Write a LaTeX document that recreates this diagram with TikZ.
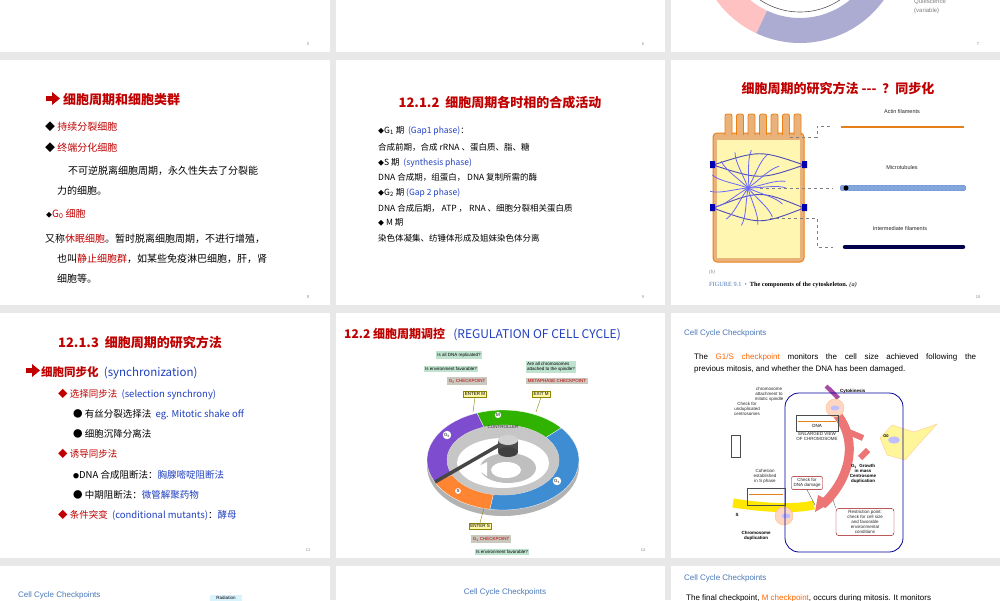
\documentclass[tikz,border=0pt]{standalone}
\usepackage{fontspec}
\setmainfont{Noto Sans CJK SC}
\newfontfamily\serifx{Liberation Serif}
\newfontfamily\sansx{Liberation Sans}
\usetikzlibrary{arrows.meta,calc}
\definecolor{rd}{HTML}{C00000}
\definecolor{bl}{HTML}{1F3FC0}
\definecolor{tb}{HTML}{4A78B8}
\definecolor{bg}{HTML}{E8E8E8}
\definecolor{cbox}{HTML}{BFE3CF}
\definecolor{gbox}{HTML}{C9C9C0}
\definecolor{ybox}{HTML}{FFF7A8}
\tikzset{
 panel/.style={fill=white,draw=none},
 tx/.style={anchor=base west,inner sep=0pt,font=\fontsize{10}{12}\selectfont},
 tt/.style={anchor=base,inner sep=0pt,font=\fontsize{13}{15}\selectfont\bfseries,text=rd},
 pg/.style={anchor=base,inner sep=0pt,font=\fontsize{4}{5}\selectfont,text=gray},
 sm/.style={anchor=base west,inner sep=0pt,font=\fontsize{8.5}{10}\selectfont},
 lab/.style={inner sep=1.5pt,font=\sansx\fontsize{4.5}{5}\selectfont},
 tiny/.style={inner sep=0pt,align=center,font=\sansx\fontsize{4.5}{5}\selectfont},
 cct/.style={anchor=base west,inner sep=0pt,font=\sansx\fontsize{8}{9}\selectfont,text=tb},
}
\begin{document}
\begin{tikzpicture}[x=1pt,y=-1pt]
\fill[bg] (0,0) rectangle (1000,600);
\useasboundingbox (0,0) rectangle (1000,600);
% panels
\foreach \xa/\xb in {0/330,336/665,671/1000}{
 \foreach \ya/\yb in {0/52,60/305,313/558,566/600}{
  \fill[panel] (\xa,\ya) rectangle (\xb,\yb);}}
% top row remnants (ring of slide 7)
\begin{scope}
\clip (671,0) rectangle (1000,52);
\fill[pink!80!red!60] ($(800,-60)+(145:103)$) arc[start angle=145,end angle=115,radius=103] -- ($(800,-60)+(115:78)$) arc[start angle=115,end angle=145,radius=78] -- cycle;
\fill[blue!30!gray!50] ($(800,-60)+(115:103)$) arc[start angle=115,end angle=35,radius=103] -- ($(800,-60)+(35:78)$) arc[start angle=35,end angle=115,radius=78] -- cycle;
\draw[gray!70!black,line width=0.6pt] (800,-60) circle (72);
\end{scope}
\node[anchor=base west,inner sep=0pt,text=gray,font=\sansx\fontsize{6}{7}\selectfont] (qv1) at (914,3) {Quiescence};
\node[anchor=base west,inner sep=0pt,text=gray,font=\sansx\fontsize{6}{7}\selectfont] (qv2) at (914,12) {(variable)};
\node[pg] (p5) at (308,45) {5};
\node[pg] (p6) at (643,45) {6};
\node[pg] (p7) at (978,45) {7};
% ===== slide 8
\fill[rd] (46,96) rectangle (53,101);
\fill[rd] (52,92) -- (60,98.5) -- (52,105) -- cycle;
\node[tx,font=\fontsize{13}{15}\selectfont\bfseries,text=rd] (s8t) at (63,104) {细胞周期和细胞类群};
\node[tx] (s8a) at (45,130) {◆ \textcolor{rd}{持续分裂细胞}};
\node[tx] (s8b) at (45,151) {◆ \textcolor{rd}{终端分化细胞}};
\node[tx] (s8c) at (68,174) {不可逆脱离细胞周期，永久性失去了分裂能};
\node[tx] (s8d) at (57,194) {力的细胞。};
\node[tx] (s8e) at (46,217) {\fontsize{6}{7}\selectfont◆\fontsize{10}{12}\selectfont\textcolor{rd}{G\textsubscript{0} 细胞}};
\node[tx] (s8f) at (45,242) {又称\textcolor{rd}{休眠细胞}。暂时脱离细胞周期，不进行增殖，};
\node[tx] (s8g) at (57,262) {也叫\textcolor{rd}{静止细胞群}，如某些免疫淋巴细胞，肝，肾};
\node[tx] (s8h) at (57,282) {细胞等。};
\node[pg] (p8) at (308,298) {8};
% ===== slide 9
\node[tt] (s9t) at (500,107) {12.1.2\ \ 细胞周期各时相的合成活动};
\begin{scope}[every node/.style={sm}]
\node (s9a) at (378,133) {\fontsize{6}{7}\selectfont◆\fontsize{8.5}{10}\selectfont G\textsubscript{1} 期\ \ \textcolor{bl}{(Gap1 phase)}：};
\node (s9b) at (378,150) {合成前期，合成 rRNA 、蛋白质、脂、糖};
\node (s9c) at (378,165) {\fontsize{6}{7}\selectfont◆\fontsize{8.5}{10}\selectfont S 期\ \ \textcolor{bl}{(synthesis phase)}};
\node (s9d) at (378,180) {DNA\ 合成期，组蛋白，\ DNA 复制所需的酶};
\node (s9e) at (378,195) {\fontsize{6}{7}\selectfont◆\fontsize{8.5}{10}\selectfont G\textsubscript{2} 期 \textcolor{bl}{(Gap 2 phase)}};
\node (s9f) at (378,211) {DNA 合成后期，\ ATP ，\ RNA 、细胞分裂相关蛋白质};
\node (s9g) at (378,225) {\fontsize{6}{7}\selectfont◆\fontsize{8.5}{10}\selectfont\ M 期};
\node (s9h) at (378,241) {染色体凝集、纺锤体形成及姐妹染色体分离};
\end{scope}
\node[pg] (p9) at (643,298) {9};
% ===== slide 10
\node[tt] (s10t) at (838,93) {细胞周期的研究方法 {-}{-}{-}\ \ ？同步化};
\fill[orange!45!brown!60, draw=orange!70!brown, line width=1pt, rounded corners=4pt] (713,133) rectangle (804,262);
\foreach \i in {0,...,6}{
 \fill[orange!45!brown!60, draw=orange!70!brown, line width=0.8pt, rounded corners=2pt] ({725+\i*11.5},135) -- ({725+\i*11.5},114) -- ({732+\i*11.5},114) -- ({732+\i*11.5},135);}
\fill[orange!25!yellow!30] (717,140) rectangle (800,258);
\begin{scope}[blue!60!black!70,line width=0.9pt]
\draw (713,165) .. controls (760,150) and (760,150) .. (804,165);
\draw (713,165) .. controls (760,180) and (760,180) .. (804,165);
\draw (713,208) .. controls (760,190) and (760,190) .. (804,208);
\draw (713,208) .. controls (760,225) and (760,225) .. (804,208);
\end{scope}
\begin{scope}[blue!60,line width=0.8pt]
\foreach \a in {0,25,...,350}{\draw (748,188) .. controls ++(\a:15) and ++(\a+20:-10) .. ++(\a:38);}
\end{scope}
\fill[blue!70!black] (710,161) rectangle (715,168) (802,161) rectangle (807,168) (710,204) rectangle (715,211) (802,204) rectangle (807,211);
\draw[dashed,gray,line width=0.4pt] (790,137) -- (817,137) -- (817,126) -- (833,126);
\draw[dashed,gray,line width=0.4pt] (760,188) -- (833,188);
\draw[dashed,gray,line width=0.4pt] (770,218) -- (817,218) -- (817,247) -- (833,247);
\node[tiny,text=gray!30!black,font=\sansx\fontsize{5.5}{6}\selectfont] (af) at (902,112) {Actin filaments};
\node[tiny,text=gray!30!black,font=\sansx\fontsize{5.5}{6}\selectfont] (mt) at (902,168) {Microtubules};
\node[tiny,text=gray!30!black,font=\sansx\fontsize{5.5}{6}\selectfont] (if) at (900,229) {Intermediate filaments};
\draw[line width=2.5pt,orange!60!brown] (841,127) -- (964,127);
\draw[line width=6pt,line cap=round,blue!55!black] (843,188) -- (963,188);
\draw[line width=6pt,line cap=round,dash pattern=on 2pt off 2pt,cyan!50!blue!50] (843,188) -- (963,188);
\fill[black] (846,188) circle (2.5pt);
\draw[line width=4.5pt,line cap=round,blue!30!black] (845,247) -- (963,247);
\node[tx,font=\serifx\itshape\fontsize{5}{6}\selectfont,text=gray] (fb) at (709,273) {(b)};
\node[tx,font=\serifx\fontsize{6.3}{7}\selectfont] (fc) at (709,286) {\textcolor{tb}{FIGURE 9.1}\ \ \textcolor{tb}{•}\ \ \textbf{The components of the cytoskeleton.} \textit{(a)}};
\node[pg] (p10) at (978,298) {10};
% ===== slide 11
\node[tt] (s11t) at (140,347) {12.1.3\ \ 细胞周期的研究方法};
\fill[rd] (26,368) rectangle (33,373);
\fill[rd] (32,364) -- (40,370.5) -- (32,377) -- cycle;
\node[tx,font=\fontsize{11.5}{13}\selectfont\bfseries,text=rd] (s11a) at (41,376) {细胞同步化\ \ \textcolor{bl}{\mdseries(synchronization)}};
\begin{scope}[every node/.style={tx,font=\fontsize{9.5}{11}\selectfont}]
\node (s11b) at (58,397) {\textcolor{rd}{◆ 选择同步法}\ \ \textcolor{bl}{(selection synchrony)}};
\node (s11c) at (73,417) {● 有丝分裂选择法\ \ \textcolor{bl}{eg. Mitotic shake off}};
\node (s11d) at (73,437) {● 细胞沉降分离法};
\node (s11e) at (58,457) {\textcolor{rd}{◆ 诱导同步法}};
\node (s11f) at (73,478) {\fontsize{6}{7}\selectfont●\fontsize{9.5}{11}\selectfont DNA 合成阻断法：\textcolor{bl}{胸腺嘧啶阻断法}};
\node (s11g) at (73,498) {● 中期阻断法：\textcolor{bl}{微管解聚药物}};
\node (s11h) at (58,518) {\textcolor{rd}{◆ 条件突变}\ \ \textcolor{bl}{(conditional mutants)}：\textcolor{bl}{酵母}};
\end{scope}
\node[pg] (p11) at (308,551) {11};
% ===== slide 12
\node[tx,font=\fontsize{12}{14}\selectfont\bfseries,text=rd] (s12t) at (344,338) {12.2\ 细胞周期调控\ \ \ \textcolor{bl}{\mdseries(REGULATION OF CELL CYCLE)}};
\def\cx{503}\def\cy{460}
\newcommand\ringseg[3]{\fill[#3,draw=white,line width=0.3pt] ($(\cx,\cy)+(#1:76 and 50)$) arc[start angle=#1,end angle=#2,x radius=76,y radius=50] -- ($(\cx,\cy)+(#2:56 and 35)$) arc[start angle=#2,end angle=#1,x radius=56,y radius=35] -- cycle;}
\fill[gray!60] ($(\cx,\cy)+(0,6)$) ellipse (76 and 50);
\ringseg{250}{320}{green!65!lime!70!black}
\ringseg{320}{460}{cyan!60!blue!80}
\ringseg{460}{515}{orange!80!red!80}
\ringseg{515}{610}{blue!45!violet!70}
\fill[gray!45] (\cx,\cy) ellipse (56 and 35);
\fill[white] (\cx,\cy+3) ellipse (46 and 25);
\fill[gray!50] (\cx+5,\cy+8) ellipse (28 and 15);
\fill[white] (\cx+3,\cy+10) ellipse (15 and 8);
\fill[white] (\cx-28,\cy+8) -- (\cx-16,\cy+2) -- (\cx-16,\cy+16) -- cycle;
\draw[line width=3.5pt,gray!55!black] (\cx-68,\cy+22) -- (\cx+5,\cy-20);
\fill[gray!60!black] (\cx-5,\cy-20) rectangle (\cx+15,\cy-8);
\fill[gray!50!black] (\cx+5,\cy-8) ellipse (10 and 5);
\fill[gray!35] (\cx+5,\cy-20) ellipse (10 and 5);
\node[tiny,text=gray!40!black] (ctl) at (\cx,\cy-33) {CONTROLLER};
\node[tiny,fill=white,circle,inner sep=0.5pt] (mM) at (\cx-5,\cy-45) {M};
\node[tiny,fill=white,circle,inner sep=0.5pt] (mG2) at (\cx-56,\cy-25) {G\textsubscript{2}};
\node[tiny,fill=white,circle,inner sep=0.5pt] (mS) at (\cx-45,\cy+31) {S};
\node[tiny,fill=white,circle,inner sep=0.5pt] (mG1) at (\cx+54,\cy+21) {G\textsubscript{1}};
\node[lab,fill=cbox] (q1) at (459,355) {Is all DNA replicated?};
\node[lab,fill=cbox] (q2) at (451,369) {Is environment favorable?};
\node[lab,fill=gbox,text=rd] (g2c) at (467,381) {G\textsubscript{2} CHECKPOINT};
\node[lab,fill=ybox,draw=olive] (em) at (475,394) {ENTER M};
\node[lab,fill=cbox,align=left] (q3) at (551,367) {Are all chromosomes\\attached to the spindle?};
\node[lab,fill=gbox,text=rd] (mc) at (557,381) {METAPHASE CHECKPOINT};
\node[lab,fill=ybox,draw=olive] (xm) at (541,394) {EXIT M};
\node[lab,fill=ybox,draw=olive] (es) at (480,526) {ENTER S};
\node[lab,fill=gbox,text=rd] (g1c) at (491,539) {G\textsubscript{1} CHECKPOINT};
\node[lab,fill=cbox] (q4) at (502,552) {Is environment favorable?};
\coordinate (emp) at (473,412);
\coordinate (xmp) at (536,412);
\coordinate (esp) at (484,508);
\draw[olive,line width=0.4pt] (em.south) -- (emp);
\draw[olive,line width=0.4pt] (xm.south) -- (xmp);
\draw[olive,line width=0.4pt] (es.north) -- (esp);
\node[pg] (p12) at (643,551) {12};
% ===== slide 13
\node[cct] (c13) at (684,335) {Cell Cycle Checkpoints};
\node[anchor=north west,inner sep=0pt,text width=282pt,align=justify,font=\sansx\fontsize{8}{12.5}\selectfont] (par) at (694,353) {The \textcolor{orange!80!red}{G1/S checkpoint} monitors the cell size achieved following the\linebreak previous mitosis, and whether the DNA has been damaged.};
\draw[yellow!90!orange,line width=9pt] (733,503) .. controls (760,507) and (790,510) .. (814,505);
\draw[red!40!pink!85!gray,line width=9pt] (835,412) .. controls (860,440) and (850,480) .. (822,505);
\fill[red!40!pink!85!gray] (815,512) -- (818,495) -- (832,502) -- cycle;
\draw[red!40!pink!85!gray,line width=6pt] (844,430) -- (863,438);
\draw[red!40!pink!85!gray,line width=6pt] (868,450) -- (860,458);
\fill[violet!70] (830,387) -- (840,397) -- (836,400) -- cycle;
\draw[violet!70,line width=4pt] (826,386) -- (836,396);
\fill[orange!20!yellow!40,draw=orange!40] (880,438) -- (892,425) -- (914,432) -- (937,424) -- (918,445) -- (905,460) -- (887,455) -- cycle;
\fill[blue!25] (894,440) ellipse (6 and 3.5);
\node[tiny,font=\sansx\bfseries\fontsize{4}{5}\selectfont] (g0) at (886,436) {G0};
\fill[orange!30!pink!50,draw=orange!50] (835,408) circle (9);
\fill[blue!25] (835,408) ellipse (4.5 and 2.5);
\fill[orange!30!pink!50,draw=orange!50] (784,516) circle (9);
\fill[blue!25] (786,516) ellipse (4.5 and 2.5);
\draw[blue!60!black,line width=0.8pt,rounded corners=14pt] (785,393) rectangle (903,552);
\node[tiny,text=gray!30!black] (chr) at (769,394) {chromosome\\attachment to\\mitotic spindle};
\node[tiny,font=\sansx\bfseries\fontsize{4.5}{5}\selectfont,anchor=west] (cyt) at (840,391) {Cytokinesis};
\node[tiny,text=gray!30!black] (cu) at (747,409) {Check for\\unduplicated\\centrosomes};
\draw[gray!60!black,line width=0.5pt] (796,415) rectangle (838,431);
\draw[orange!60!brown,line width=1pt] (798,421) -- (836,421);
\node[tiny] (dna) at (817,426) {DNA};
\node[tiny,text=gray!30!black] (ev) at (817,436) {ENLARGED VIEW\\OF CHROMOSOME};
\draw[gray!60!black,line width=0.5pt] (731,435) rectangle (740,457);
\draw[gray!60!black,line width=0.5pt] (747,488) rectangle (785,505);
\draw[orange!60!brown,line width=1pt] (749,494) -- (783,494);
\node[tiny,text=gray!30!black] (coh) at (765,476) {Cohesion\\established\\in S phase};
\node[tiny,draw=red!60!black,rounded corners=2pt,inner sep=2pt,text=gray!30!black] (cdna) at (807,483) {Check for\\DNA damage};
\node[tiny,font=\sansx\bfseries\fontsize{4.5}{5}\selectfont] (gr) at (863,474) {G\textsubscript{1}\ \ Growth\\in mass\\Centrosome\\duplication};
\node[tiny,draw=red!60!black,rounded corners=3pt,inner sep=2pt,text=gray!30!black,minimum width=58pt] (rp) at (865,522) {Restriction point:\\check for cell size\\and favorable\\environmental\\conditions};
\node[tiny,font=\sansx\bfseries\fontsize{4.5}{5}\selectfont] (cd) at (756,536) {Chromosome\\duplication};
\node[tiny,font=\sansx\bfseries\fontsize{4.5}{5}\selectfont] (sS) at (737,515) {S};
\draw[gray!50!black,line width=0.3pt] (cdna.south) -- (815,505);
\draw[gray!50!black,line width=0.3pt] (rp.north west) -- (833,500);
% ===== bottom row
\node[cct] (c14) at (18,597) {Cell Cycle Checkpoints};
\node[tiny,fill=cyan!15,minimum width=32pt,minimum height=7pt] (rad) at (226,598) {Radiation};
\node[cct,anchor=base] (c15) at (505,594) {Cell Cycle Checkpoints};
\node[cct] (c16) at (684,580) {Cell Cycle Checkpoints};
\node[anchor=base west,inner sep=0pt,font=\sansx\fontsize{8}{9}\selectfont] (fin) at (686,600) {The final checkpoint, \textcolor{orange!80!red}{M checkpoint}, occurs during mitosis. It monitors};
\end{tikzpicture}
\end{document}
